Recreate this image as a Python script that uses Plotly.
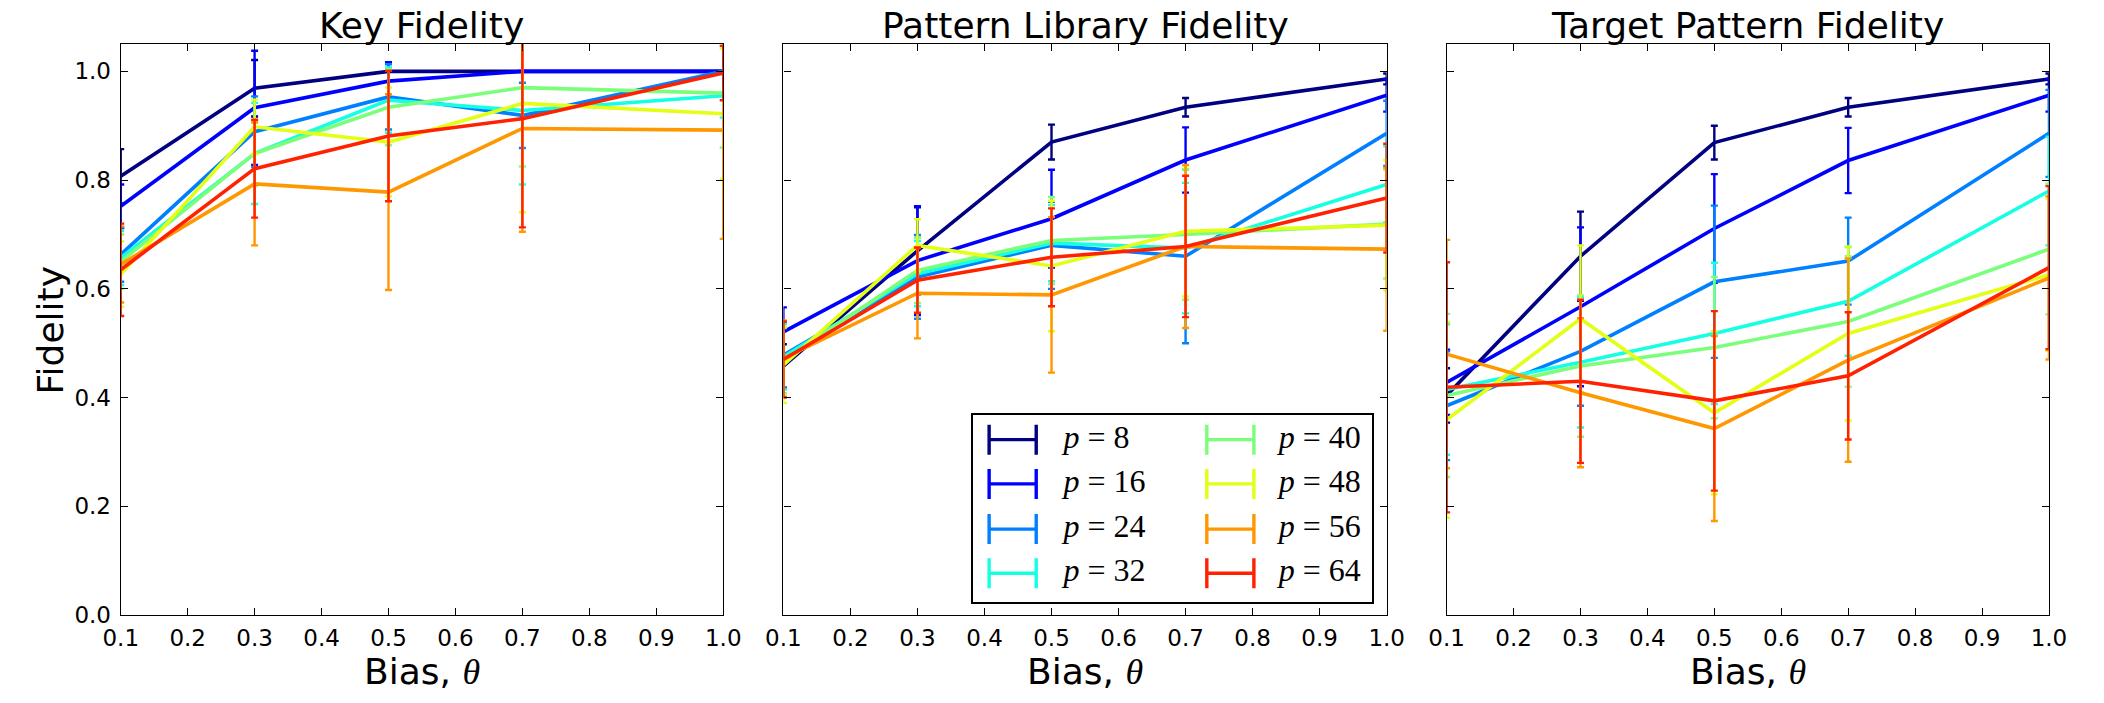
import plotly.graph_objects as go

# ---------------------------------------------------------------- data
theta = [0.1, 0.3, 0.5, 0.7, 1.0]
p_sizes = [8, 16, 24, 32, 40, 48, 56, 64]

x_ticks = [0.1, 0.2, 0.3, 0.4, 0.5, 0.6, 0.7, 0.8, 0.9, 1.0]
y_ticks = [0.0, 0.2, 0.4, 0.6, 0.8, 1.0]

panel_titles = ["Key Fidelity", "Pattern Library Fidelity", "Target Pattern Fidelity"]

# one row per p, one column per theta
key_fidelity = [
    [0.807, 0.969, 1.000, 1.000, 1.000],
    [0.752, 0.933, 0.982, 1.000, 1.000],
    [0.663, 0.889, 0.953, 0.919, 1.000],
    [0.657, 0.849, 0.947, 0.928, 0.955],
    [0.650, 0.849, 0.934, 0.970, 0.960],
    [0.627, 0.898, 0.870, 0.941, 0.922],
    [0.645, 0.793, 0.778, 0.895, 0.892],
    [0.635, 0.821, 0.881, 0.913, 0.997],
]
key_fidelity_err = [
    [0.050, 0.052, 0.000, 0.000, 0.000],
    [0.040, 0.105, 0.035, 0.000, 0.000],
    [0.050, 0.065, 0.060, 0.060, 0.000],
    [0.050, 0.093, 0.060, 0.136, 0.040],
    [0.050, 0.060, 0.070, 0.145, 0.100],
    [0.060, 0.050, 0.100, 0.200, 0.120],
    [0.070, 0.113, 0.180, 0.190, 0.200],
    [0.085, 0.090, 0.120, 0.200, 0.050],
]

library_fidelity = [
    [0.458, 0.670, 0.870, 0.934, 0.986],
    [0.521, 0.652, 0.729, 0.837, 0.956],
    [0.478, 0.622, 0.680, 0.660, 0.886],
    [0.475, 0.628, 0.684, 0.675, 0.792],
    [0.468, 0.634, 0.689, 0.700, 0.719],
    [0.460, 0.680, 0.642, 0.706, 0.717],
    [0.472, 0.592, 0.589, 0.678, 0.673],
    [0.470, 0.616, 0.658, 0.678, 0.767],
]
library_fidelity_err = [
    [0.040, 0.080, 0.032, 0.017, 0.010],
    [0.045, 0.100, 0.090, 0.060, 0.030],
    [0.060, 0.077, 0.080, 0.160, 0.060],
    [0.060, 0.060, 0.070, 0.120, 0.070],
    [0.060, 0.060, 0.080, 0.120, 0.100],
    [0.070, 0.048, 0.120, 0.120, 0.120],
    [0.070, 0.083, 0.143, 0.150, 0.150],
    [0.070, 0.060, 0.090, 0.130, 0.100],
]

target_fidelity = [
    [0.404, 0.660, 0.869, 0.934, 0.986],
    [0.428, 0.567, 0.711, 0.836, 0.956],
    [0.385, 0.485, 0.613, 0.651, 0.886],
    [0.415, 0.465, 0.518, 0.577, 0.780],
    [0.404, 0.458, 0.492, 0.540, 0.673],
    [0.359, 0.545, 0.372, 0.518, 0.626],
    [0.480, 0.409, 0.343, 0.469, 0.620],
    [0.419, 0.430, 0.394, 0.440, 0.639],
]
target_fidelity_err = [
    [0.050, 0.082, 0.031, 0.017, 0.010],
    [0.060, 0.146, 0.100, 0.060, 0.030],
    [0.100, 0.100, 0.140, 0.080, 0.080],
    [0.120, 0.120, 0.130, 0.100, 0.100],
    [0.150, 0.130, 0.130, 0.120, 0.120],
    [0.180, 0.135, 0.150, 0.160, 0.140],
    [0.210, 0.137, 0.170, 0.187, 0.150],
    [0.230, 0.150, 0.165, 0.117, 0.150],
]

# ---------------------------------------------------------------- style
# jet colour map sampled at i/8
series_colors = ["#000080", "#0000ff", "#0080ff", "#15ffe2",
                 "#7bff7b", "#e2ff15", "#ff9700", "#ff2100"]

W, H = 2104, 703
SANS = "DejaVu Sans"
SERIF = "Liberation Serif"

# axes boxes in pixels (left, right), shared top/bottom
panel_px = [(104.5, 717.5), (778.7, 1392.5), (1453.5, 2066.3)]
top_px, bottom_px = 45.0, 626.7
y_dom = [1 - bottom_px / H, 1 - top_px / H]

fig = go.Figure()

panels = [
    (key_fidelity, key_fidelity_err),
    (library_fidelity, library_fidelity_err),
    (target_fidelity, target_fidelity_err),
]

for k, (means, errs) in enumerate(panels):
    ax = "" if k == 0 else str(k + 1)
    for i, p in enumerate(p_sizes):
        fig.add_trace(go.Scatter(
            x=theta, y=means[i],
            mode="lines",
            line=dict(color=series_colors[i], width=3.6),
            error_y=dict(type="data", array=errs[i], visible=True,
                         color=series_colors[i], thickness=2.4, width=3.5),
            xaxis="x" + ax, yaxis="y" + ax,
            showlegend=False, hoverinfo="skip",
            name=f"p = {p}",
        ))

axis_common = dict(
    showline=True, linecolor="black", linewidth=1.3, mirror="ticks",
    ticks="inside", ticklen=7, tickwidth=1, tickcolor="black",
    showgrid=False, zeroline=False,
    tickfont=dict(family=SANS, size=23, color="black"),
)

layout = dict(
    width=W, height=H,
    margin=dict(l=0, r=0, t=0, b=0),
    paper_bgcolor="white", plot_bgcolor="white",
    showlegend=False,
)

for k, (l_px, r_px) in enumerate(panel_px):
    ax = "" if k == 0 else str(k + 1)
    layout["xaxis" + ax] = dict(
        axis_common, domain=[l_px / W, r_px / W], range=[0.1, 1.0],
        tickvals=x_ticks, ticktext=[f"{v:.1f}" for v in x_ticks],
        anchor="y" + ax, ticklabelstandoff=2,
    )
    layout["yaxis" + ax] = dict(
        axis_common, domain=y_dom, range=[0, 1.05],
        tickvals=y_ticks, ticktext=[f"{v:.1f}" for v in y_ticks],
        anchor="x" + ax, showticklabels=(k == 0),
        ticklabelstandoff=4,
    )
    if k > 0:
        layout["yaxis" + ax]["matches"] = "y"

# legend frame as its own small subplot
leg_l, leg_r, leg_t, leg_b = 972.0, 1378.0, 423.0, 613.3
layout["xaxis4"] = dict(domain=[leg_l / W, leg_r / W], range=[0, 1], anchor="y4",
                        showline=True, mirror=True, linecolor="black", linewidth=1.5,
                        showticklabels=False, ticks="", showgrid=False, zeroline=False,
                        fixedrange=True)
layout["yaxis4"] = dict(domain=[1 - leg_b / H, 1 - leg_t / H], range=[0, 1], anchor="x4",
                        showline=True, mirror=True, linecolor="black", linewidth=1.5,
                        showticklabels=False, ticks="", showgrid=False, zeroline=False,
                        fixedrange=True)

key_x = [0.0985, 0.644]      # centre of the error-bar key, per column
label_x = [0.226, 0.765]     # start of the label, per column
row_y = [0.869, 0.632, 0.390, 0.154]
for i, p in enumerate(p_sizes):
    col, row = divmod(i, 4)
    fig.add_trace(go.Scatter(
        x=[key_x[col]], y=[row_y[row]], mode="markers",
        marker=dict(size=1, color="rgba(0,0,0,0)"),
        error_x=dict(type="constant", value=0.059, visible=True,
                     color=series_colors[i], thickness=3.4, width=15),
        xaxis="x4", yaxis="y4", showlegend=False, hoverinfo="skip",
    ))
    fig.add_trace(go.Scatter(
        x=[label_x[col]], y=[row_y[row]], mode="text",
        text=[f"<i>p</i> = {p}"], textposition="middle right",
        textfont=dict(family=SERIF, size=32, color="black"),
        xaxis="x4", yaxis="y4", showlegend=False, hoverinfo="skip",
    ))

annotations = []
for k, title in enumerate(panel_titles):
    ax = "" if k == 0 else str(k + 1)
    annotations.append(dict(
        text=title, xref=f"x{ax} domain", yref=f"y{ax} domain",
        x=0.5, y=1, xanchor="center", yanchor="bottom", yshift=-4,
        showarrow=False, font=dict(family=SANS, size=36, color="black"),
    ))
    annotations.append(dict(
        text=f"Bias, <span style=\"font-family:'{SERIF}'\"><i>θ</i></span>",
        xref=f"x{ax} domain", yref=f"y{ax} domain",
        x=0.5, y=0, xanchor="center", yanchor="top", yshift=-34,
        showarrow=False, font=dict(family=SANS, size=36, color="black"),
    ))
annotations.append(dict(
    text="Fidelity", xref="paper", yref="y domain",
    x=33.5 / W, y=0.5, xanchor="center", yanchor="middle", textangle=-90,
    showarrow=False, font=dict(family=SANS, size=36, color="black"),
))
layout["annotations"] = annotations

fig.update_layout(**layout)
fig.write_html("out.html")
